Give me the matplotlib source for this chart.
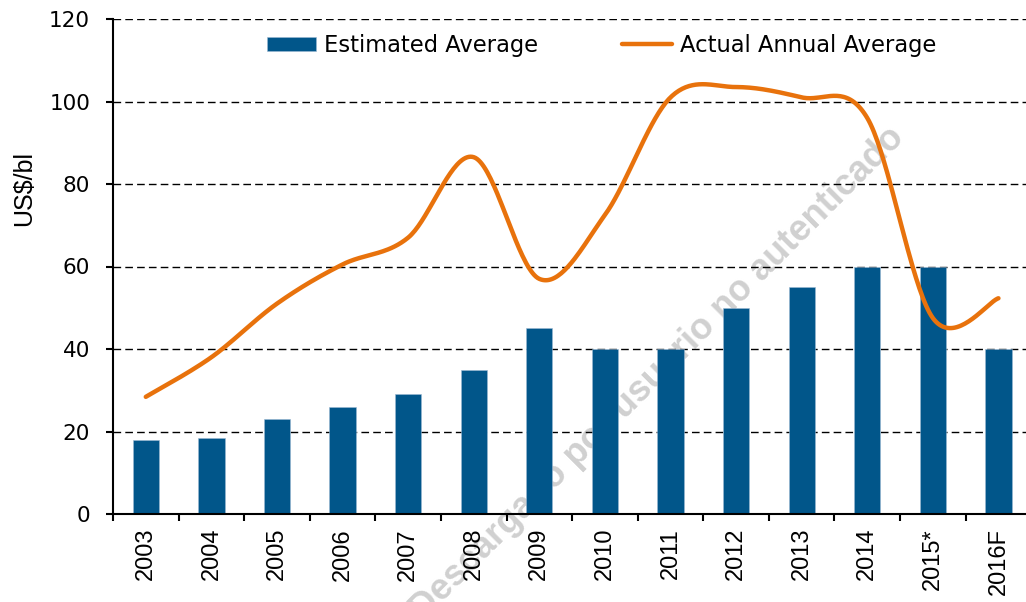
import numpy as np
import matplotlib
matplotlib.use("Agg")
import matplotlib.pyplot as plt
from matplotlib.ticker import FixedLocator

years = ["2003", "2004", "2005", "2006", "2007", "2008", "2009",
         "2010", "2011", "2012", "2013", "2014", "2015*", "2016F"]
estimated = [18, 18.5, 23, 26, 29, 35, 45, 40, 40, 50, 55, 60, 60, 40]
actual = [28.4, 38, 51, 60.5, 67, 86.5, 57, 72.5, 101, 103.5, 101, 96, 47.5, 52.3]

BAR_COLOR = "#01568A"
LINE_COLOR = "#E8720C"


def smooth(xs, ys, n=40):
    # Excel-like smoothed line: Catmull-Rom through every point
    pts = np.column_stack([xs, ys]).astype(float)
    pad = np.vstack([pts[0], pts, pts[-1]])
    out = []
    for i in range(len(pts) - 1):
        p0, p1, p2, p3 = pad[i], pad[i + 1], pad[i + 2], pad[i + 3]
        b1 = p1 + (p2 - p0) / 6
        b2 = p2 - (p3 - p1) / 6
        t = np.linspace(0, 1, n)[:, None]
        seg = ((1 - t) ** 3) * p1 + 3 * ((1 - t) ** 2) * t * b1 \
            + 3 * (1 - t) * t ** 2 * b2 + t ** 3 * p2
        out.append(seg if i == 0 else seg[1:])
    out = np.vstack(out)
    return out[:, 0], out[:, 1]


fig = plt.figure(figsize=(10.26, 6.02), dpi=100)
ax = fig.add_axes([113 / 1026, 1 - 514 / 602, 1 - 113 / 1026, (514 - 19) / 602])

x = np.arange(len(years))
bars = ax.bar(x, estimated, width=0.4, color=BAR_COLOR, edgecolor="#9DB9D3",
              linewidth=0.4, zorder=2, label="Estimated Average")
sx, sy = smooth(x, actual)
line, = ax.plot(sx, sy, color=LINE_COLOR, lw=3.2, solid_capstyle="round",
                solid_joinstyle="round", zorder=3, label="Actual Annual Average")

ax.set_xlim(-0.5, 13.42)
ax.set_ylim(0, 120)

ax.set_yticks(range(0, 121, 20))
for v in range(20, 121, 20):
    ax.axhline(v, color="black", lw=1.0, dashes=(5.5, 3), zorder=1)

ax.set_xticks(x)
ax.set_xticklabels(years, rotation=90, family="Liberation Sans", fontsize=17)
ax.xaxis.set_minor_locator(FixedLocator(np.arange(-0.5, 13.5, 1.0)))
ax.tick_params(axis="x", which="major", length=0, pad=10)
ax.tick_params(axis="x", which="minor", length=5, width=1.5, direction="out")
ax.tick_params(axis="y", length=5, width=1.5, pad=11.5, labelsize=15.5)
for lab in ax.get_yticklabels():
    lab.set_family("DejaVu Sans")

for s in ["top", "right"]:
    ax.spines[s].set_visible(False)
ax.spines["left"].set_linewidth(1.5)
ax.spines["bottom"].set_linewidth(1.5)

ax.set_ylabel("US$/bl", family="Liberation Sans", fontsize=18)
ax.yaxis.label.set_va("center")
ax.yaxis.set_label_coords(-0.0975, 0.657)

ax.legend([bars, line], ["Estimated Average", "Actual Annual Average"],
          loc="center", bbox_to_anchor=(0.535, 0.947), ncol=2, frameon=False,
          prop={"family": "DejaVu Sans", "size": 16.3},
          handlelength=2.2, handleheight=0.57, handletextpad=0.35,
          columnspacing=3.7, borderaxespad=0)

ax.text(658 / 1026, 1 - 374 / 602, "Descargado por usuario no autenticado",
        transform=fig.transFigure, rotation=45, rotation_mode="anchor",
        ha="center", va="center", fontsize=26, fontweight="bold",
        family="Liberation Sans", color="#D0D0D0", zorder=0.6, clip_on=False)

fig.savefig("out.png", dpi=100)
